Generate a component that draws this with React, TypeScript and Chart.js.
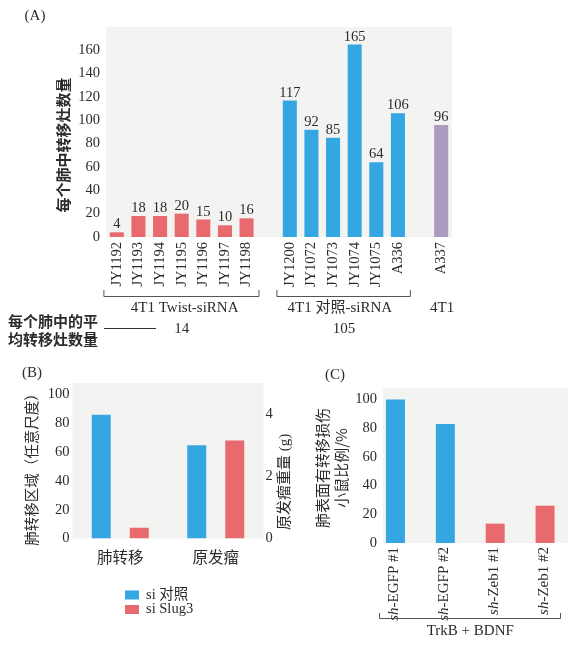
import React, { useEffect, useRef } from 'react';
import { Chart, registerables } from 'chart.js';

Chart.register(...registerables);

const SERIF = "'Liberation Serif', 'Noto Sans CJK SC', serif";
const CJK = "'Noto Sans CJK SC', 'Liberation Serif', sans-serif";
const TEXT = '#2b2b2b';
const LINE = '#555555';
const BLUE = '#34a6e2';
const RED = '#e8696e';
const PURPLE = '#a99cbf';
const PLOT_BG = '#f3f4f1';

// ---------- Panel A data ----------
const A_TWIST_LABELS = ['JY1192', 'JY1193', 'JY1194', 'JY1195', 'JY1196', 'JY1197', 'JY1198'];
const A_TWIST_VALUES = [4, 18, 18, 20, 15, 10, 16];
const A_CONTROL_LABELS = ['JY1200', 'JY1072', 'JY1073', 'JY1074', 'JY1075', 'A336'];
const A_CONTROL_VALUES = [117, 92, 85, 165, 64, 106];
const A_PARENT_LABELS = ['A337'];
const A_PARENT_VALUES = [96];
const A_GROUP_NAMES = ['4T1 Twist-siRNA', '4T1 对照-siRNA', '4T1'];
const A_GROUP_MEANS = ['14', '105'];
const A_Y_TICKS = [0, 20, 40, 60, 80, 100, 120, 140, 160];
const A_Y_MAX = 180;
const A_Y_TITLE = '每个肺中转移灶数量';
const A_MEAN_TITLE = ['每个肺中的平', '均转移灶数量'];

// ---------- Panel B data ----------
const B_CATEGORIES = ['肺转移', '原发瘤'];
const B_SERIES_NAMES = ['si 对照', 'si Slug3'];
const B_CONTROL_VALUES = [86, 3.0];
const B_SLUG_VALUES = [7.5, 3.15];
const B_VALUE_AXES = ['y', 'y1'];
const B_LEFT_TICKS = [0, 20, 40, 60, 80, 100];
const B_RIGHT_TICKS = [0, 2, 4];
const B_LEFT_MAX = 108;
const B_RIGHT_MAX = 5;
const B_LEFT_TITLE = '肺转移区域（任意尺度）';
const B_RIGHT_TITLE = '原发瘤重量 (g)';

// ---------- Panel C data ----------
const C_LABEL_PREFIX = 'sh';
const C_LABELS = ['-EGFP #1', '-EGFP #2', '-Zeb1 #1', '-Zeb1 #2'];
const C_VALUES = [100, 83, 13.5, 26];
const C_IS_CONTROL = [true, true, false, false];
const C_Y_TICKS = [0, 20, 40, 60, 80, 100];
const C_Y_MAX = 108;
const C_TITLE = ['肺表面有转移损伤', '小鼠比例/%'];
const C_GROUP_NAME = 'TrkB + BDNF';

// ---------- helpers ----------
function text(
  ctx: CanvasRenderingContext2D,
  s: string,
  x: number,
  y: number,
  font: string,
  align: CanvasTextAlign = 'center',
  rotate = 0,
  baseline: CanvasTextBaseline = 'middle'
) {
  ctx.save();
  ctx.font = font;
  ctx.fillStyle = TEXT;
  ctx.textAlign = align;
  ctx.textBaseline = baseline;
  ctx.translate(x, y);
  if (rotate) ctx.rotate(rotate);
  ctx.fillText(s, 0, 0);
  ctx.restore();
}

function bracket(ctx: CanvasRenderingContext2D, x1: number, x2: number, y: number, h: number) {
  ctx.save();
  ctx.strokeStyle = LINE;
  ctx.lineWidth = 1;
  ctx.beginPath();
  ctx.moveTo(x1 + 0.5, y - h);
  ctx.lineTo(x1 + 0.5, y + 0.5);
  ctx.lineTo(x2 + 0.5, y + 0.5);
  ctx.lineTo(x2 + 0.5, y - h);
  ctx.stroke();
  ctx.restore();
}

const plotBg = {
  id: 'plotBg',
  beforeDatasetsDraw(chart: any) {
    const { ctx, chartArea: a } = chart;
    ctx.save();
    ctx.fillStyle = PLOT_BG;
    ctx.fillRect(a.left, a.top, a.right - a.left, a.bottom - a.top);
    ctx.restore();
  },
};

const noGrid = { display: false, drawTicks: false };
const noBorder = { display: false };

// ---------- Panel A config ----------
const aGroups = [
  { labels: A_TWIST_LABELS, values: A_TWIST_VALUES, color: RED },
  { labels: A_CONTROL_LABELS, values: A_CONTROL_VALUES, color: BLUE },
  { labels: A_PARENT_LABELS, values: A_PARENT_VALUES, color: PURPLE },
];
const aCategories: string[] = [];
const aRanges: [number, number][] = [];
aGroups.forEach((g, gi) => {
  if (gi > 0) aCategories.push('');
  const start = aCategories.length;
  aCategories.push(...g.labels);
  aRanges.push([start, aCategories.length - 1]);
});
const aDatasets = aGroups.map((g, gi) => ({
  data: aCategories.map((_, i) =>
    i >= aRanges[gi][0] && i <= aRanges[gi][1] ? g.values[i - aRanges[gi][0]] : null
  ),
  backgroundColor: g.color,
  grouped: false,
  barPercentage: 0.65,
  categoryPercentage: 1,
}));

const aLabelsPlugin = {
  id: 'aLabels',
  afterDatasetsDraw(chart: any) {
    const ctx = chart.ctx;
    chart.data.datasets.forEach((ds: any, di: number) => {
      const meta = chart.getDatasetMeta(di);
      meta.data.forEach((el: any, i: number) => {
        const v = ds.data[i];
        if (v == null) return;
        text(ctx, String(v), el.x, el.y - 4, `14.5px ${SERIF}`, 'center', 0, 'alphabetic');
      });
    });
  },
};

const aAnnotPlugin = {
  id: 'aAnnot',
  afterDraw(chart: any) {
    const ctx = chart.ctx;
    const xs = chart.scales.x;
    const step = xs.getPixelForValue(1) - xs.getPixelForValue(0);
    const f15 = `15px ${SERIF}`;
    aRanges.forEach(([s, e], gi) => {
      const x1 = xs.getPixelForValue(s);
      const x2 = xs.getPixelForValue(e);
      const mid = (x1 + x2) / 2;
      if (e > s) bracket(ctx, x1 - 0.62 * step, x2 + 0.55 * step, 296, 6);
      text(ctx, A_GROUP_NAMES[gi], mid + (gi === 0 ? 3 : gi === 1 ? -4 : 1), 308, f15);
      if (A_GROUP_MEANS[gi]) text(ctx, A_GROUP_MEANS[gi], mid, 329, f15);
    });
    // mean footnote
    const bold = `bold 15px ${CJK}`;
    text(ctx, A_MEAN_TITLE[0], 8, 321, bold, 'left');
    text(ctx, A_MEAN_TITLE[1], 8, 339, bold, 'left');
    ctx.save();
    ctx.strokeStyle = '#333';
    ctx.lineWidth = 1;
    ctx.beginPath();
    ctx.moveTo(104, 328.5);
    ctx.lineTo(156, 328.5);
    ctx.stroke();
    ctx.restore();
    // axis title and panel letter
    text(ctx, A_Y_TITLE, 63, 145, bold, 'center', -Math.PI / 2);
    text(ctx, '(A)', 35, 16, `15px ${SERIF}`);
  },
};

const configA: any = {
  type: 'bar',
  data: { labels: aCategories, datasets: aDatasets },
  options: {
    animation: false,
    responsive: false,
    maintainAspectRatio: false,
    layout: { padding: { left: 0, right: 119, top: 27, bottom: 0 } },
    plugins: { legend: { display: false }, tooltip: { enabled: false } },
    scales: {
      x: {
        grid: noGrid,
        border: noBorder,
        ticks: {
          autoSkip: false,
          maxRotation: 90,
          minRotation: 90,
          padding: 5,
          color: TEXT,
          font: { family: SERIF, size: 14.5 },
        },
        afterFit: (s: any) => {
          s.height = 118;
        },
      },
      y: {
        min: 0,
        max: A_Y_MAX,
        grid: noGrid,
        border: noBorder,
        ticks: { padding: 6, color: TEXT, font: { family: SERIF, size: 14.5 } },
        afterBuildTicks: (s: any) => {
          s.ticks = A_Y_TICKS.map((v) => ({ value: v }));
        },
        afterFit: (s: any) => {
          s.width = 106;
        },
      },
    },
  },
  plugins: [plotBg, aLabelsPlugin, aAnnotPlugin],
};

// ---------- Panel B config ----------
const bSeries = [
  { label: B_SERIES_NAMES[0], values: B_CONTROL_VALUES, color: BLUE },
  { label: B_SERIES_NAMES[1], values: B_SLUG_VALUES, color: RED },
];
const bAxes = Array.from(new Set(B_VALUE_AXES));
const bDatasets = bAxes.flatMap((axis) =>
  bSeries.map((s) => ({
    label: s.label,
    yAxisID: axis,
    backgroundColor: s.color,
    data: s.values.map((v, i) => (B_VALUE_AXES[i] === axis ? v : null)),
    skipNull: true,
    categoryPercentage: 0.796,
    barPercentage: 0.5,
  }))
);

const bAnnotPlugin = {
  id: 'bAnnot',
  afterDraw(chart: any) {
    const ctx = chart.ctx;
    text(ctx, B_LEFT_TITLE, 31, 111, `14.5px ${CJK}`, 'center', -Math.PI / 2);
    text(ctx, B_RIGHT_TITLE, 285, 127, `15px ${SERIF}`, 'center', -Math.PI / 2);
    text(ctx, '(B)', 32, 18, `15px ${SERIF}`);
    // legend
    bSeries.forEach((s, i) => {
      const y = 240 + i * 14.5;
      ctx.save();
      ctx.fillStyle = s.color;
      ctx.fillRect(125, y - 4.5, 14, 9);
      ctx.restore();
      text(ctx, s.label, 146, y, `14.5px ${SERIF}`, 'left');
    });
  },
};

const configB: any = {
  type: 'bar',
  data: { labels: B_CATEGORIES, datasets: bDatasets },
  options: {
    animation: false,
    responsive: false,
    maintainAspectRatio: false,
    layout: { padding: { left: 0, right: 0, top: 28, bottom: 0 } },
    plugins: { legend: { display: false }, tooltip: { enabled: false } },
    scales: {
      x: {
        grid: noGrid,
        border: noBorder,
        ticks: { padding: 9, color: TEXT, font: { family: CJK, size: 15.5 } },
        afterFit: (s: any) => {
          s.height = 108.5;
        },
      },
      y: {
        position: 'left',
        min: 0,
        max: B_LEFT_MAX,
        grid: noGrid,
        border: noBorder,
        ticks: { padding: 3, color: TEXT, font: { family: SERIF, size: 14.5 } },
        afterBuildTicks: (s: any) => {
          s.ticks = B_LEFT_TICKS.map((v) => ({ value: v }));
        },
        afterFit: (s: any) => {
          s.width = 72.5;
        },
      },
      y1: {
        position: 'right',
        min: 0,
        max: B_RIGHT_MAX,
        grid: noGrid,
        border: noBorder,
        ticks: { padding: 2, color: TEXT, font: { family: SERIF, size: 14.5 } },
        afterBuildTicks: (s: any) => {
          s.ticks = B_RIGHT_TICKS.map((v) => ({ value: v }));
        },
        afterFit: (s: any) => {
          s.width = 36.5;
        },
      },
    },
  },
  plugins: [plotBg, bAnnotPlugin],
};

// ---------- Panel C config ----------
const cDataset = {
  data: C_VALUES.map((v, i) => ({ x: i, y: v })),
  backgroundColor: C_IS_CONTROL.map((c) => (c ? BLUE : RED)),
  barPercentage: 0.38,
  categoryPercentage: 1,
};

const cAnnotPlugin = {
  id: 'cAnnot',
  afterDraw(chart: any) {
    const ctx = chart.ctx;
    const xs = chart.scales.x;
    const a = chart.chartArea;
    const f = `15px ${SERIF}`;
    const fi = `italic 15px ${SERIF}`;
    C_LABELS.forEach((lab, i) => {
      const x = xs.getPixelForValue(i) - 1;
      const y = a.bottom + 4;
      ctx.save();
      ctx.translate(x, y);
      ctx.rotate(-Math.PI / 2);
      ctx.fillStyle = TEXT;
      ctx.textBaseline = 'middle';
      ctx.textAlign = 'left';
      ctx.font = fi;
      const w1 = ctx.measureText(C_LABEL_PREFIX).width;
      ctx.font = f;
      const w2 = ctx.measureText(lab).width;
      const start = -(w1 + w2);
      ctx.font = fi;
      ctx.fillText(C_LABEL_PREFIX, start, 0);
      ctx.font = f;
      ctx.fillText(lab, start + w1, 0);
      ctx.restore();
    });
    const x1 = xs.getPixelForValue(-0.33);
    const x2 = xs.getPixelForValue(3.3);
    bracket(ctx, x1, x2, 263, 5);
    text(ctx, C_GROUP_NAME, xs.getPixelForValue((C_LABELS.length - 1) / 2), 276, f);
    text(ctx, C_TITLE[0], 22, 113, `15px ${CJK}`, 'center', -Math.PI / 2);
    text(ctx, C_TITLE[1], 41, 113, `15px ${CJK}`, 'center', -Math.PI / 2);
    text(ctx, '(C)', 35, 20, `15px ${SERIF}`);
  },
};

const configC: any = {
  type: 'bar',
  data: { datasets: [cDataset] },
  options: {
    animation: false,
    responsive: false,
    maintainAspectRatio: false,
    layout: { padding: { left: 0, right: 3, top: 33, bottom: 0 } },
    plugins: { legend: { display: false }, tooltip: { enabled: false } },
    scales: {
      x: {
        type: 'linear',
        offset: false,
        min: -0.25,
        max: 3.46,
        grid: noGrid,
        border: noBorder,
        ticks: { display: false },
        afterBuildTicks: (s: any) => {
          s.ticks = [];
        },
        afterFit: (s: any) => {
          s.height = 104;
        },
      },
      y: {
        min: 0,
        max: C_Y_MAX,
        grid: noGrid,
        border: noBorder,
        ticks: { padding: 6, color: TEXT, font: { family: SERIF, size: 14.5 } },
        afterBuildTicks: (s: any) => {
          s.ticks = C_Y_TICKS.map((v) => ({ value: v }));
        },
        afterFit: (s: any) => {
          s.width = 83;
        },
      },
    },
  },
  plugins: [plotBg, cAnnotPlugin],
};

export default function App() {
  const refA = useRef<HTMLCanvasElement>(null);
  const refB = useRef<HTMLCanvasElement>(null);
  const refC = useRef<HTMLCanvasElement>(null);

  useEffect(() => {
    const charts = [
      new Chart(refA.current as HTMLCanvasElement, configA),
      new Chart(refB.current as HTMLCanvasElement, configB),
      new Chart(refC.current as HTMLCanvasElement, configC),
    ];
    return () => charts.forEach((c) => c.destroy());
  }, []);

  const abs = (left: number, top: number, w: number, h: number): React.CSSProperties => ({
    position: 'absolute',
    left,
    top,
    width: w,
    height: h,
  });

  return (
    <div style={{ position: 'absolute', left: 0, top: 0, width: 571, height: 647, background: '#ffffff' }}>
      <canvas ref={refA} width={571} height={355} style={abs(0, 0, 571, 355)} />
      <canvas ref={refB} width={300} height={292} style={abs(0, 355, 300, 292)} />
      <canvas ref={refC} width={271} height={292} style={abs(300, 355, 271, 292)} />
    </div>
  );
}
